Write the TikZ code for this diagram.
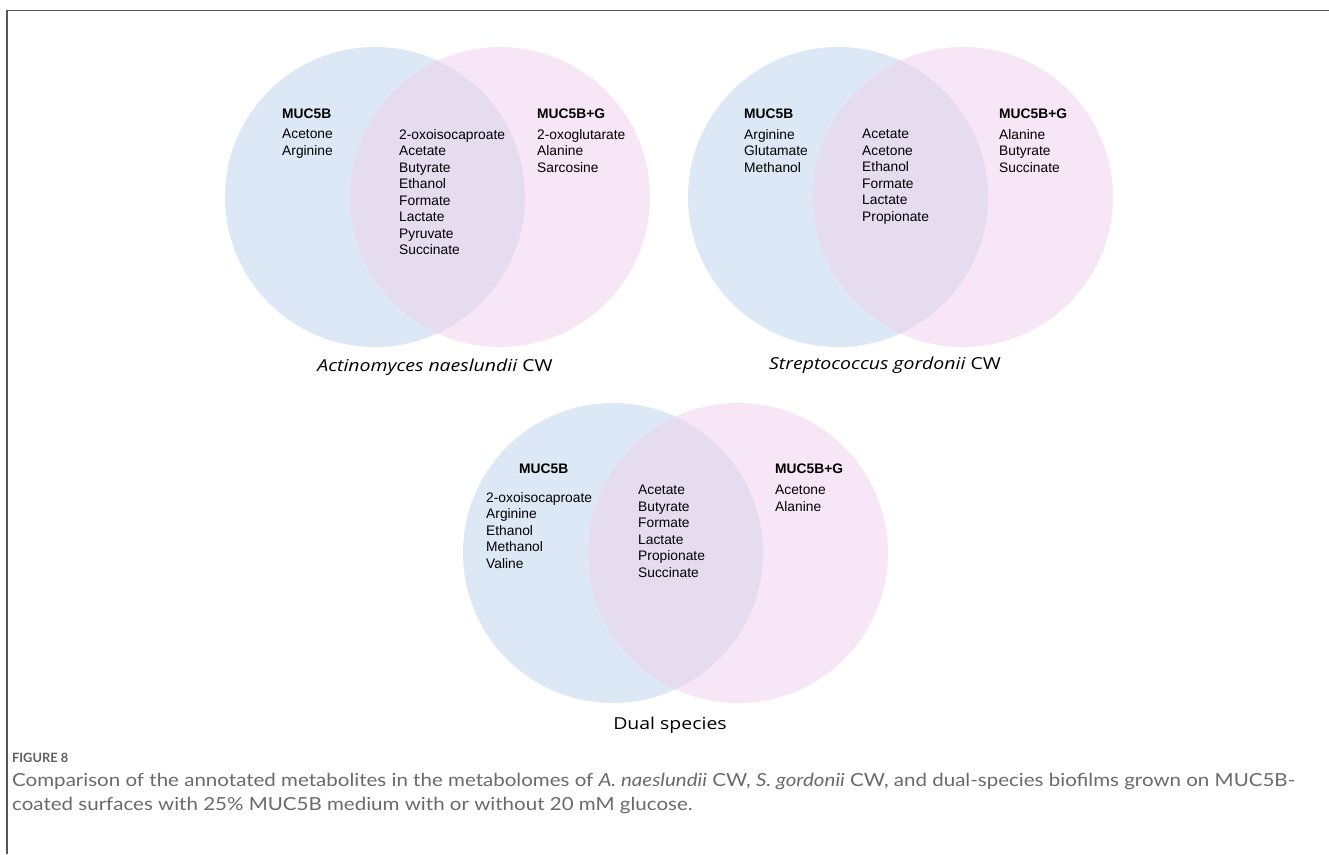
\documentclass[tikz,border=0pt]{standalone}
\usepackage{fontspec}
\setmainfont{Liberation Sans}
\newfontfamily\titlefont[FakeStretch=1.18]{Open Sans}
\newfontfamily\capfont[FakeStretch=1.14]{Lato}
\newfontfamily\figfont{Lato}
\definecolor{vblue}{HTML}{DCE8F5}
\definecolor{vpink}{HTML}{F7E6F5}
\definecolor{vmix}{HTML}{E5DCF0}
\definecolor{framegray}{HTML}{555555}
\definecolor{capgray}{HTML}{6A6A6A}
\tikzset{
  lst/.style={anchor=north west, inner sep=0pt, align=left, font=\fontsize{13.8}{16.5}\selectfont},
  hdr/.style={anchor=north west, inner sep=0pt, font=\fontsize{13.8}{16.5}\selectfont\bfseries},
  ttl/.style={inner sep=0pt, font=\titlefont\fontsize{16.5}{20}\selectfont},
  captext/.style={anchor=base west, inner sep=0pt, text=capgray, font=\capfont\fontsize{18}{24}\selectfont},
}
\newcommand{\venn}[3]{%
  \fill[vblue] (#1,#3) circle (150);
  \fill[vpink] (#2,#3) circle (150);
  \begin{scope}
    \clip (#1,#3) circle (150);
    \fill[vmix] (#2,#3) circle (150);
  \end{scope}}
\begin{document}
\begin{tikzpicture}[x=1pt,y=-1pt]
\useasboundingbox (0,0) rectangle (1329,854);
\fill[white] (0,0) rectangle (1329,854);
\draw[framegray, line width=1.2pt] (7,854) -- (7,10.5) -- (1329,10.5);

% Venns
\venn{375}{500}{197}
\venn{838}{963}{197}
\venn{613}{738}{553}

% Top-left
\node[hdr] (a1h) at (282,109) {MUC5B};
\node[lst] (a1) at (282,129) {Acetone\\Arginine};
\node[lst] (a2) at (399,129) {2-oxoisocaproate\\Acetate\\Butyrate\\Ethanol\\Formate\\Lactate\\Pyruvate\\Succinate};
\node[hdr] (a3h) at (537,109) {MUC5B+G};
\node[lst] (a3) at (537,129) {2-oxoglutarate\\Alanine\\Sarcosine};
\node[ttl] (at) at (435,367) {\itshape Actinomyces naeslundii\upshape{} CW};

% Top-right
\node[hdr] (b1h) at (744,109) {MUC5B};
\node[lst] (b1) at (744,129) {Arginine\\Glutamate\\Methanol};
\node[lst] (b2) at (862,129) {Acetate\\Acetone\\Ethanol\\Formate\\Lactate\\Propionate};
\node[hdr] (b3h) at (999,109) {MUC5B+G};
\node[lst] (b3) at (999,129) {Alanine\\Butyrate\\Succinate};
\node[ttl] (bt) at (885,365) {\itshape Streptococcus gordonii\upshape{} CW};

% Bottom
\node[hdr] (c1h) at (519,464) {MUC5B};
\node[lst] (c1) at (486,492) {2-oxoisocaproate\\Arginine\\Ethanol\\Methanol\\Valine};
\node[lst] (c2) at (638,485) {Acetate\\Butyrate\\Formate\\Lactate\\Propionate\\Succinate};
\node[hdr] (c3h) at (775,464) {MUC5B+G};
\node[lst] (c3) at (775,485) {Acetone\\Alanine};
\node[ttl] (ct) at (670,725) {Dual species};

% Caption
\node[captext, text=capgray!90!black, font=\figfont\fontsize{12.8}{15}\selectfont\bfseries] (fig) at (12,762) {FIGURE 8};
\node[captext] (cap1) at (12,786) {Comparison of the annotated metabolites in the metabolomes of \textit{A. naeslundii} CW, \textit{S. gordonii} CW, and dual-species biofilms grown on MUC5B-};
\node[captext] (cap2) at (12,810) {coated surfaces with 25\% MUC5B medium with or without 20 mM glucose.};
\end{tikzpicture}
\end{document}
